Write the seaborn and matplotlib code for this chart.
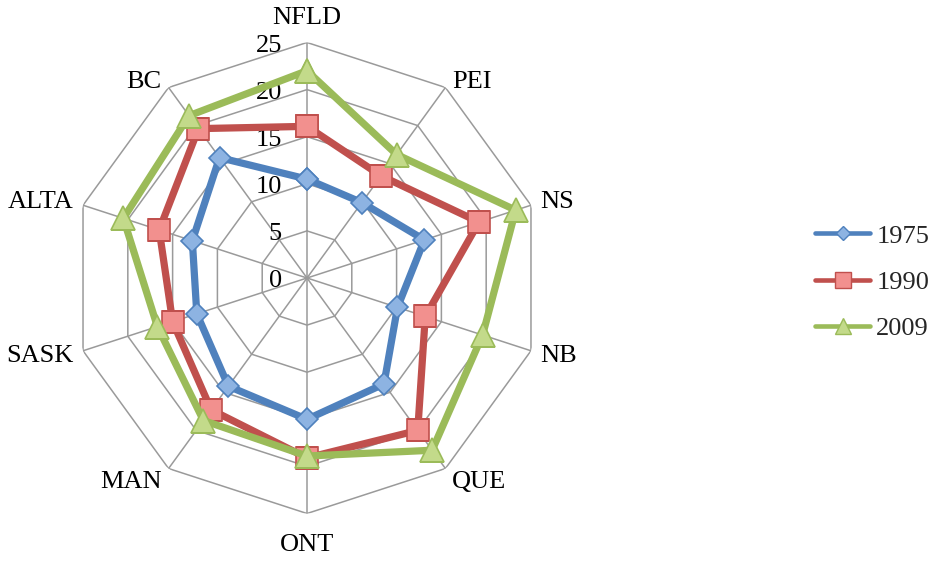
import numpy as np
import pandas as pd
import matplotlib
matplotlib.use("Agg")
import matplotlib.pyplot as plt
from matplotlib.lines import Line2D
import seaborn as sns

# Provinces around the radar, clockwise from the top
provinces = ["NFLD", "PEI", "NS", "NB", "QUE", "ONT", "MAN", "SASK", "ALTA", "BC"]

# Values per year
vals_1975 = [10.5, 9.9, 13.1, 10.1, 13.9, 15.0, 14.2, 12.3, 12.8, 15.8]
vals_1990 = [16.1, 13.4, 19.2, 13.2, 20.0, 19.1, 17.3, 15.0, 16.5, 19.6]
vals_2009 = [22.0, 16.2, 23.3, 19.6, 22.6, 18.9, 18.7, 16.7, 20.5, 21.3]

years = ["1975", "1990", "2009"]
radial_ticks = [0, 5, 10, 15, 20, 25]
r_max = 25

sns.set_theme(style="white")
plt.rcParams["font.family"] = ["Liberation Serif", "DejaVu Serif"]

FS = 19
fig = plt.figure(figsize=(9.4, 5.61), dpi=100)
fig.patch.set_facecolor("white")

# polar axes: centre at (307, 278) px, outer radius 235.5 px
W, H = 940.0, 561.0
cx, cy, rad = 307.0, 278.0, 235.5
ax = fig.add_axes([(cx - rad) / W, 1 - (cy + rad) / H, 2 * rad / W, 2 * rad / H],
                  projection="polar")
ax.set_theta_zero_location("N")
ax.set_theta_direction(-1)
ax.set_ylim(0, r_max)
ax.grid(False)
ax.spines["polar"].set_visible(False)
ax.set_xticks([])
ax.set_yticks([])
ax.patch.set_alpha(0)

n = len(provinces)
theta = np.arange(n) * 2 * np.pi / n
theta_closed = np.append(theta, 2 * np.pi)

# polygonal grid and spokes
grid_col = "#9a9a9a"
for r in radial_ticks[1:]:
    ax.plot(theta_closed, [r] * (n + 1), color=grid_col, lw=1.1, zorder=1)
for t in theta:
    ax.plot([t, t], [0, r_max], color=grid_col, lw=1.1, zorder=1)

# radial value labels
for r in radial_ticks:
    ax.annotate(str(r), xy=(0, r), xytext=(-18, -2.5), textcoords="offset points",
                ha="right", va="center", fontsize=FS, color="black")

# category labels just outside the outer ring
label_offsets = {
    "NFLD": (0, 18, "center", "center"),
    "PEI": (5, 4, "left", "center"),
    "NS": (7, 2, "left", "center"),
    "NB": (7, -4, "left", "center"),
    "QUE": (5, -10, "left", "center"),
    "ONT": (0, -23, "center", "center"),
    "MAN": (-5, -10, "right", "center"),
    "SASK": (-7, -4, "right", "center"),
    "ALTA": (-7, 2, "right", "center"),
    "BC": (-5, 4, "right", "center"),
}
for t, name in zip(theta, provinces):
    dx, dy, ha, va = label_offsets[name]
    ax.annotate(name, xy=(t, r_max), xytext=(dx, dy), textcoords="offset points",
                ha=ha, va=va, fontsize=FS, color="black")

series = {
    "1975": dict(vals=vals_1975, color="#4F81BD", mfc="#8DB3E2", marker="D", ms=11.5, lms=7.5),
    "1990": dict(vals=vals_1990, color="#C0504D", mfc="#F2908E", marker="s", ms=16, lms=11),
    "2009": dict(vals=vals_2009, color="#9BBB59", mfc="#C3DA8A", marker="^", ms=17, lms=12),
}

for yr in years:
    s = series[yr]
    df = pd.DataFrame({"theta": theta_closed,
                       "value": np.append(s["vals"], s["vals"][0])})
    sns.lineplot(data=df, x="theta", y="value", sort=False, estimator=None,
                 color=s["color"], lw=5.2, marker=s["marker"], ms=s["ms"],
                 mfc=s["mfc"], mec=s["color"], mew=1.2, ax=ax,
                 zorder=3, legend=False)

ax.set_xlabel("")
ax.set_ylabel("")
ax.set_ylim(0, r_max)

handles = [Line2D([], [], color=series[yr]["color"], lw=3.3,
                  marker=series[yr]["marker"], ms=series[yr]["lms"],
                  mfc=series[yr]["mfc"], mec=series[yr]["color"], mew=1.0)
           for yr in years]
fig.legend(handles, years, loc="center left",
           bbox_to_anchor=(815 / W, 1 - 282 / H), frameon=False,
           fontsize=FS, handlelength=2.1, handletextpad=0.22,
           labelspacing=0.86, borderpad=0, borderaxespad=0)

fig.savefig("out.png", dpi=100, facecolor="white")
